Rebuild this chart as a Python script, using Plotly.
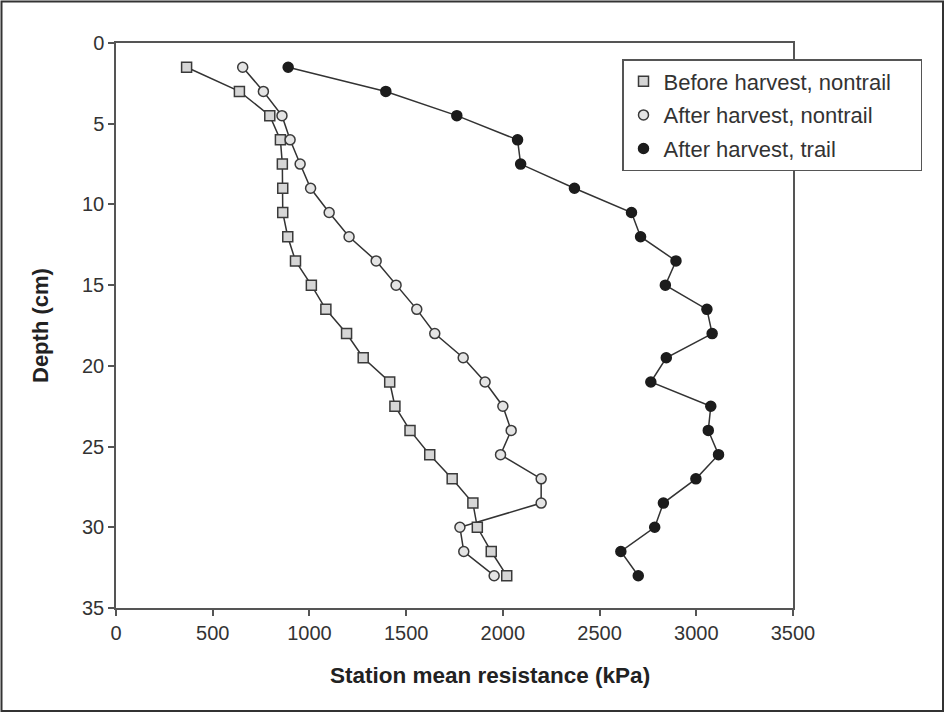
import plotly.graph_objects as go

depth = [1.5, 3, 4.5, 6, 7.5, 9, 10.5, 12, 13.5, 15, 16.5, 18, 19.5, 21, 22.5,
         24, 25.5, 27, 28.5, 30, 31.5, 33]
before_nontrail = [365, 638, 795, 850, 860, 862, 862, 888, 928, 1010, 1085, 1192,
                   1278, 1415, 1442, 1520, 1622, 1738, 1845, 1868, 1940, 2020]
after_nontrail = [655, 762, 858, 900, 952, 1006, 1102, 1205, 1345, 1448, 1555, 1648,
                  1795, 1908, 2000, 2043, 1988, 2198, 2198, 1778, 1798, 1955]
after_trail = [890, 1395, 1762, 2076, 2092, 2370, 2665, 2712, 2895, 2840, 3055, 3082,
               2845, 2765, 3075, 3062, 3115, 2998, 2830, 2785, 2610, 2700]

series_names = ["Before harvest, nontrail", "After harvest, nontrail", "After harvest, trail"]
series_vals = [before_nontrail, after_nontrail, after_trail]
symbols = ["square", "circle", "circle"]
fills = ["#d6d6d6", "#e4e4e4", "#1c1c1c"]
edges = ["#3a3a3a", "#3a3a3a", "#1c1c1c"]

FONT = "Arial, 'Liberation Sans', sans-serif"
fig = go.Figure()

for i, (name, vals) in enumerate(zip(series_names, series_vals)):
    fig.add_trace(go.Scatter(
        x=vals, y=depth, mode="lines", showlegend=False, legendgroup=f"g{i}",
        line=dict(color="#333333", width=1.5), hoverinfo="skip"))

for i, (name, vals) in enumerate(zip(series_names, series_vals)):
    fig.add_trace(go.Scatter(
        x=vals, y=depth, mode="markers", name=name + "\u00a0\u00a0\u00a0\u00a0",
        legendgroup=f"g{i}",
        marker=dict(symbol=symbols[i], size=10, color=fills[i],
                    line=dict(color=edges[i], width=1.5))))

# plot area: x 116-793, y 43-608 in a 945x713 canvas
L, R, T, B = 116, 793, 43, 608
W, H = R - L, B - T

def px(xp):
    return (xp - L) / W

def py(yp):
    return (B - yp) / H

fig.update_layout(
    width=945, height=713,
    margin=dict(l=L, r=945 - R, t=T, b=713 - B, pad=0),
    paper_bgcolor="white", plot_bgcolor="white",
    font=dict(family=FONT, size=20, color="#333333"),
    showlegend=True,
    legend=dict(
        x=px(622), y=py(59), xanchor="left", yanchor="top",
        bgcolor="white", bordercolor="#555555", borderwidth=1.5,
        font=dict(family=FONT, size=22, color="#333333"),
        traceorder="grouped", tracegroupgap=2, itemsizing="trace",
    ),
    xaxis=dict(
        range=[0, 3500], dtick=500, tick0=0, showgrid=False, zeroline=False,
        showline=True, linecolor="#555555", linewidth=1.5, mirror=True,
        ticks="outside", ticklen=6, tickwidth=1.5, tickcolor="#555555",
        tickfont=dict(family=FONT, size=20, color="#333333"),
    ),
    yaxis=dict(
        range=[35, 0], dtick=5, tick0=0, showgrid=False, zeroline=False,
        showline=True, linecolor="#555555", linewidth=1.5, mirror=True,
        ticks="outside", ticklen=6, tickwidth=1.5, tickcolor="#555555",
        tickfont=dict(family=FONT, size=20, color="#333333"),
    ),
    annotations=[
        dict(text="<b>Station mean resistance (kPa)</b>", xref="paper", yref="paper",
             x=px(490), y=py(675), xanchor="center", yanchor="middle", showarrow=False,
             font=dict(family=FONT, size=22.5, color="#222222")),
        dict(text="<b>Depth (cm)</b>", xref="paper", yref="paper",
             x=px(40), y=py(326), xanchor="center", yanchor="middle", showarrow=False,
             textangle=-90, font=dict(family=FONT, size=22, color="#222222")),
    ],
    shapes=[
        dict(type="rect", xref="paper", yref="paper",
             x0=px(1.5), x1=px(943), y0=py(1.5), y1=py(711),
             line=dict(color="#333333", width=2), fillcolor="rgba(0,0,0,0)", layer="below"),
    ],
)

fig.write_html("out.html", config={"displayModeBar": False},
               post_script="document.body.style.margin='0';document.body.style.overflow='hidden';")
